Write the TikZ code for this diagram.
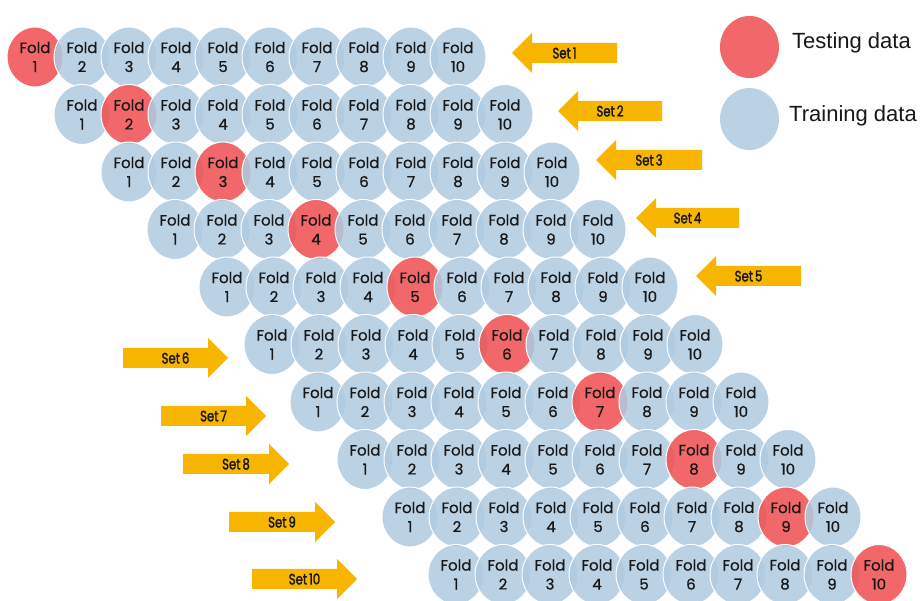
\documentclass[tikz,border=0pt]{standalone}
\usepackage{fontspec}
\usepackage{graphicx}
\setmainfont{Liberation Sans}
\newfontfamily\foldfont[FakeBold=0.7]{Poppins}
\newfontfamily\setfont[FakeBold=2]{Poppins}
\usetikzlibrary{shapes.geometric}
\definecolor{trainblue}{RGB}{176,202,224}
\definecolor{testred}{RGB}{240,78,80}
\definecolor{setorange}{RGB}{247,181,0}
\definecolor{inkdark}{RGB}{24,24,24}
\begin{document}
\begin{tikzpicture}[x=1pt,y=-1pt,
  fold/.style={ellipse, minimum width=56pt, minimum height=60pt, inner sep=0pt,
    draw=white, line width=1pt, fill opacity=0.85, text opacity=1,
    font=\foldfont\fontsize{15}{19}\selectfont, align=center, text=inkdark},
  train/.style={fold, fill=trainblue},
  test/.style={fold, fill=testred},
  legdot/.style={ellipse, minimum width=59pt, minimum height=62pt, inner sep=0pt, fill opacity=0.85},
  legtext/.style={anchor=base west, inner sep=0pt, font=\fontsize{22}{26}\selectfont, text=inkdark},
  setarrow/.style={fill=setorange},
  setlabel/.style={inner sep=0pt, font=\setfont\fontsize{15}{17}\selectfont, text=inkdark}
]
\useasboundingbox (0,0) rectangle (922,601);
\fill[white] (0,0) rectangle (922,601);

% fold circles
\foreach \r/\x in {1/35,2/82,3/129,4/175,5/227,6/272,7/318,8/365,9/410,10/456} {
  \foreach \c in {1,...,10} {
    \pgfmathsetmacro\cx{\x+47*(\c-1)}
    \pgfmathsetmacro\cy{57+57.5*(\r-1)}
    \ifnum\c=\r\def\st{test}\else\def\st{train}\fi
    \node[\st] (f\r-\c) at (\cx,\cy) {Fold\\\c};
  }
}

% left arrows (Set 1..5)
\foreach \n/\tip/\tail/\y in {1/512/617/53, 2/558/662/111, 3/596/702/160, 4/636/739/218, 5/696/801/276} {
  \fill[setarrow] (\tip,\y) -- (\tip+20,\y-20) -- (\tip+20,\y-10) -- (\tail,\y-10)
     -- (\tail,\y+10) -- (\tip+20,\y+10) -- (\tip+20,\y+20) -- cycle;
  \node[setlabel] (s\n) at ({(\tip+\tail)/2},\y) {\scalebox{0.78}[1]{Set\,\n}};
}
% right arrows (Set 6..10)
\foreach \n/\st/\tip/\y in {6/123/228/358, 7/161/266/416, 8/183/289/464, 9/229/335/522, 10/252/357/579} {
  \fill[setarrow] (\st,\y-10) -- (\tip-20,\y-10) -- (\tip-20,\y-20) -- (\tip,\y)
     -- (\tip-20,\y+20) -- (\tip-20,\y+10) -- (\st,\y+10) -- cycle;
  \node[setlabel] (s\n) at ({(\st+\tip)/2},\y) {\scalebox{0.78}[1]{Set\,\n}};
}

% legend
\node[legdot, fill=testred] (legtest) at (749.5,47) {};
\node[legdot, fill=trainblue] (legtrain) at (749.5,119) {};
\node[legtext] (lt1) at (792,49) {Testing data};
\node[legtext] (lt2) at (789,122) {Training data};
\end{tikzpicture}
\end{document}
